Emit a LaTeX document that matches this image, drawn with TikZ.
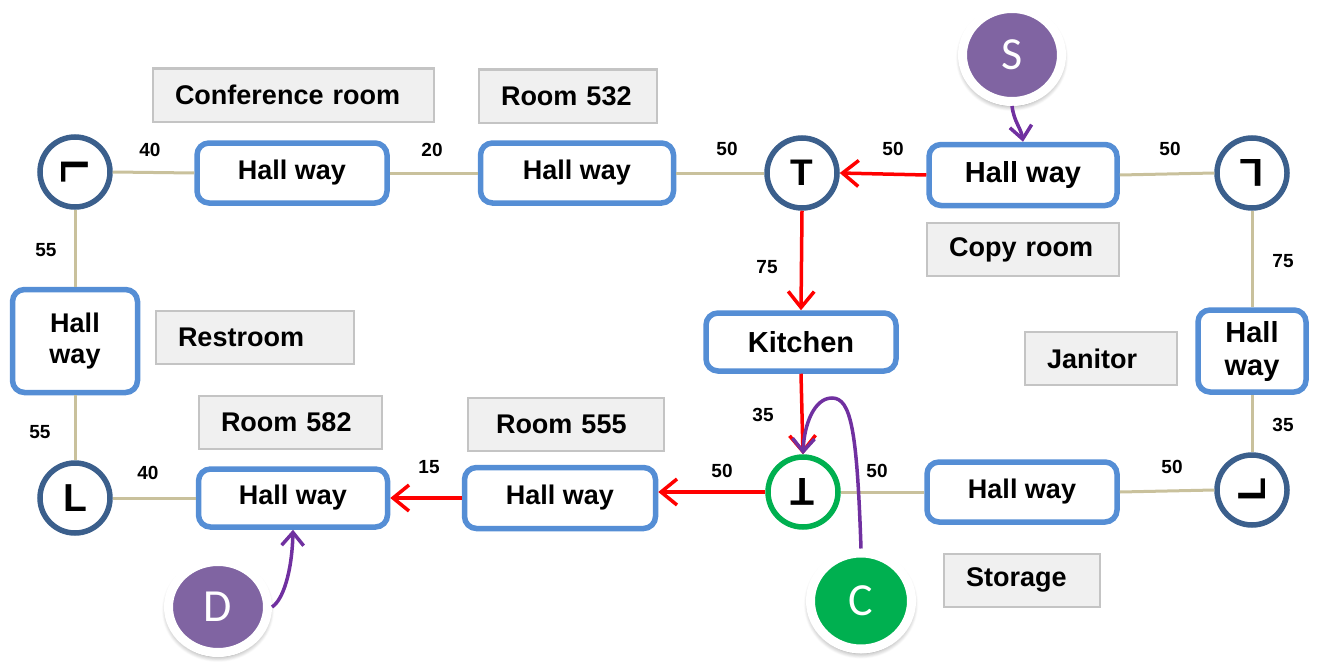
\documentclass[tikz,border=0pt]{standalone}
\usepackage{fontspec}
\setmainfont{Liberation Sans}
\newfontfamily\badgefont{Carlito}
\usetikzlibrary{arrows.meta,shapes.geometric,shadows.blur}

\definecolor{hallblue}{HTML}{558ED5}
\definecolor{jointblue}{HTML}{3B5F8C}
\definecolor{corridortan}{HTML}{C9C19C}
\definecolor{labelgray}{HTML}{F0F0F0}
\definecolor{labeledge}{HTML}{C4C4C4}
\definecolor{routered}{HTML}{FF0000}
\definecolor{pathpurple}{HTML}{7030A0}
\definecolor{badgepurple}{HTML}{8064A2}
\definecolor{badgegreen}{HTML}{00B050}

% junction glyphs are upright or turned capital letters
\newcommand{\turned}[2]{\rotatebox[origin=c]{#1}{#2}}

\tikzset{
  hall/.style={draw=hallblue, line width=5.5pt, fill=white, rounded corners=12pt,
    inner sep=0pt, align=center, font=\fontsize{27}{31}\selectfont\bfseries},
  room/.style={draw=labeledge, line width=2pt, fill=labelgray, inner xsep=22pt,
    inner ysep=0pt, align=left, minimum height=53pt,
    font=\fontsize{27}{31}\selectfont\bfseries},
  joint/.style={circle, draw=jointblue, line width=5.5pt, fill=white,
    minimum size=70pt, inner sep=0pt, font=\fontsize{39}{39}\selectfont\bfseries},
  weight/.style={inner sep=0pt, font=\fontsize{19}{21}\selectfont\bfseries},
  corridor/.style={draw=corridortan, line width=3pt},
  route/.style={draw=routered, line width=3.5pt, -{Straight Barb[length=16pt,width=26pt]}},
  walk/.style={draw=pathpurple, line width=3.5pt, -{Straight Barb[length=13pt,width=22pt]}},
  badge/.style={ellipse, draw=white, line width=9pt, inner sep=0pt, text=white,
    font=\badgefont\fontsize{46}{46}\selectfont,
    blur shadow={shadow xshift=0pt, shadow yshift=-3pt, shadow scale=1.03,
      shadow blur steps=8, shadow blur radius=5pt, shadow opacity=45}},
}

\begin{document}
\begin{tikzpicture}[x=1pt, y=-1pt]
\useasboundingbox (0,0) rectangle (1319,661);

% room labels
\node[room, text width=237pt] (conf) at (293.5,95) {Conference room};
\node[room, text width=134pt] (r532) at (568,96) {Room 532};
\node[room, text width=148pt] (copy) at (1023,249.5) {Copy room};
\node[room, text width=154pt] (rest) at (255,337.5) {Restroom};
\node[room, text width=108pt] (jan) at (1101,358.5) {Janitor};
\node[room, text width=139pt] (r582) at (290.5,422.5) {Room 582};
\node[room, inner xsep=28pt, text width=140pt] (r555) at (566,424.5) {Room 555};
\node[room, text width=112pt] (stor) at (1022,580) {Storage};

% hallway segments
\node[hall, minimum width=190pt, minimum height=60pt] (hw1) at (292,173) {Hall way};
\node[hall, minimum width=193pt, minimum height=60pt] (hw2) at (577,173) {Hall way};
\node[hall, minimum width=188pt, minimum height=61pt, font=\fontsize{29}{31}\selectfont\bfseries] (hw3) at (1023,175) {Hall way};
\node[hall, minimum width=125pt, minimum height=103pt] (hwl) at (75,341) {Hall\\way};
\node[hall, minimum width=190pt, minimum height=58pt, font=\fontsize{29}{31}\selectfont\bfseries] (kit) at (801,342) {Kitchen};
\node[hall, minimum width=108pt, minimum height=82pt, font=\fontsize{29}{33}\selectfont\bfseries] (hwr) at (1252,351) {Hall\\way};
\node[hall, minimum width=189pt, minimum height=58pt] (hw582) at (293,498) {Hall way};
\node[hall, minimum width=191pt, minimum height=61pt] (hw555) at (560,498) {Hall way};
\node[hall, minimum width=190pt, minimum height=60pt] (hwbr) at (1022,492) {Hall way};

% junctions
\node[joint] (tl) at (75,172) {\turned{-90}{L}};
\node[joint, font=\fontsize{37}{37}\selectfont\bfseries] (tt) at (802,173) {T};
\node[joint] (tr) at (1252,173) {\turned{180}{L}};
\node[joint] (ll) at (75,498) {L};
\node[joint, draw=badgegreen] (bt) at (803,492) {\turned{180}{T}};
\node[joint] (br) at (1252,490) {\turned{90}{L}};

% start, destination and current position
\node[badge, fill=badgepurple, minimum width=99pt, minimum height=93pt] (s) at (1012,55) {S};
\node[badge, fill=badgepurple, minimum width=99pt, minimum height=91pt] (d) at (218,607) {D};
\node[badge, fill=badgegreen, minimum width=101pt, minimum height=96pt] (c) at (861,601) {C};

% corridor lengths
\node[weight] (w1) at (150,150) {40};
\node[weight] (w2) at (432,150) {20};
\node[weight] (w3) at (727,149) {50};
\node[weight] (w4) at (893,149) {50};
\node[weight] (w5) at (1170,149) {50};
\node[weight] (w6) at (46,250) {55};
\node[weight] (w7) at (767,267) {75};
\node[weight] (w8) at (1283,261) {75};
\node[weight] (w9) at (40,432) {55};
\node[weight] (w10) at (763,415) {35};
\node[weight] (w11) at (1283,425) {35};
\node[weight] (w12) at (148,473) {40};
\node[weight] (w13) at (429,467) {15};
\node[weight] (w14) at (722,471) {50};
\node[weight] (w15) at (877,471) {50};
\node[weight] (w16) at (1172,467) {50};

% corridors
\draw[corridor] (tl.east) -- (hw1.west);
\draw[corridor] (hw1.east) -- (hw2.west);
\draw[corridor] (hw2.east) -- (tt.west);
\draw[corridor] (hw3.east) -- (tr.west);
\draw[corridor] (tr.south) -- (hwr.north);
\draw[corridor] (hwr.south) -- (br.north);
\draw[corridor] (br.west) -- (hwbr.east);
\draw[corridor] (hwbr.west) -- (bt.east);
\draw[corridor] (tl.south) -- (hwl.north);
\draw[corridor] (hwl.south) -- (ll.north);
\draw[corridor] (ll.east) -- (hw582.west);

% shortest route
\draw[route] (hw3.west) -- (tt.east);
\draw[route] (tt.south) -- (kit.north);
\draw[route] (kit.south) -- (bt.north);
\draw[route] (bt.west) -- (bt.west -| hw555.east);
\draw[route] (hw555.west) -- (hw582.east);

% walking links
\draw[walk] (s.south) .. controls (1014,122) and (1021,128) .. (hw3.north);
\draw[walk] (d.east) .. controls (283,600) and (292,572) .. (hw582.south);
\draw[walk] (c.north) .. controls (857,430) and (851,398) .. (832,398)
  .. controls (814,398) and (804,425) .. (bt.north);
\end{tikzpicture}
\end{document}
